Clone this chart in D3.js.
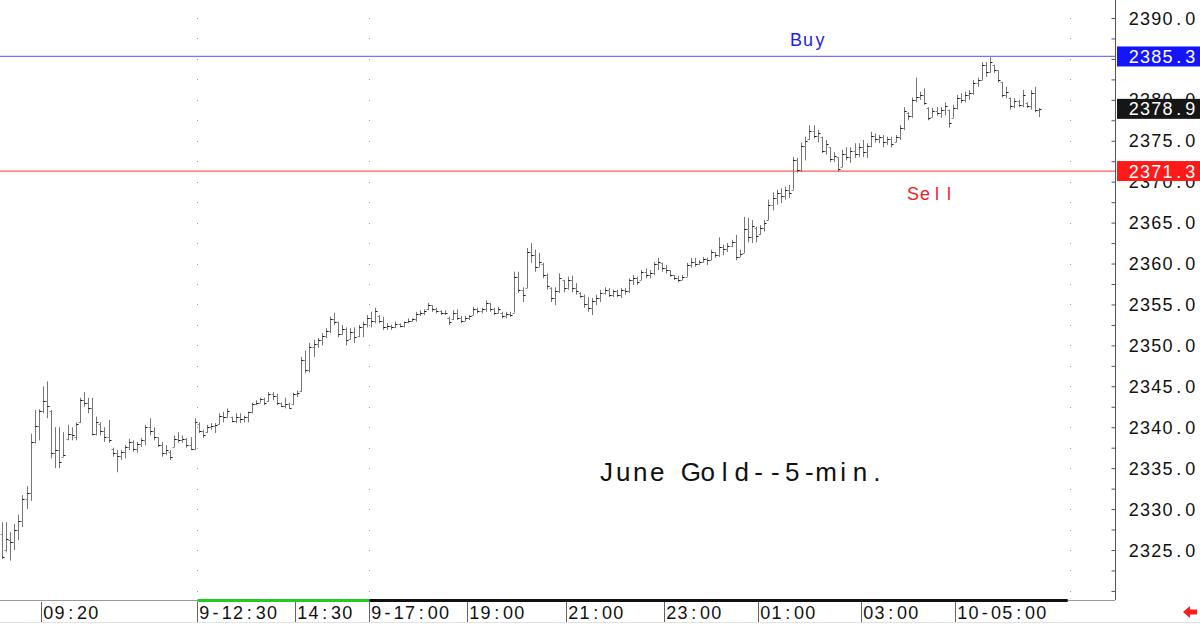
<!DOCTYPE html>
<html>
<head>
<meta charset="utf-8">
<script src="https://cdn.jsdelivr.net/npm/d3@7"></script>
<style>
  body { margin: 0; background: #fff; }
  svg { display: block; }
  text { font-family: "Liberation Sans", Arial, sans-serif; }
</style>
</head>
<body>
<div class="canvas"></div>
<script>
// ------------------------ data (5-min bars)
const highs = [
  2328.4, 2328.4, 2327.2, 2328.2, 2329.3, 2331.7, 2332.8, 2339.2, 2342.1, 2342.2,
  2345.0, 2345.6, 2342.1, 2340.0, 2340.0, 2339.4, 2340.3, 2340.0, 2340.6, 2343.6,
  2344.3, 2343.6, 2343.6, 2341.3, 2340.6, 2340.0, 2340.9, 2337.5, 2337.2, 2337.2,
  2337.8, 2338.6, 2338.4, 2338.2, 2338.7, 2340.3, 2341.1, 2340.0, 2338.8, 2338.2,
  2337.8, 2337.2, 2339.0, 2339.4, 2339.0, 2338.7, 2338.8, 2341.1, 2340.6, 2339.7,
  2340.3, 2340.5, 2340.5, 2341.7, 2341.9, 2342.3, 2341.3, 2341.7, 2341.7, 2341.4,
  2341.9, 2343.0, 2343.3, 2343.6, 2343.6, 2344.3, 2344.3, 2344.1, 2343.0, 2343.6,
  2343.0, 2344.2, 2344.5, 2348.6, 2349.4, 2350.3, 2350.7, 2350.9, 2351.5, 2352.1,
  2353.5, 2354.0, 2352.9, 2352.5, 2352.2, 2352.1, 2352.2, 2352.5, 2352.9, 2353.7,
  2354.1, 2354.6, 2353.7, 2353.5, 2352.7, 2352.5, 2352.9, 2352.7, 2352.9, 2353.3,
  2353.3, 2354.1, 2354.3, 2354.4, 2355.2, 2354.9, 2354.6, 2354.3, 2354.3, 2353.5,
  2354.3, 2354.4, 2353.6, 2353.6, 2353.7, 2354.7, 2354.6, 2354.6, 2355.5, 2355.2,
  2354.6, 2354.7, 2354.1, 2354.1, 2354.1, 2359.0, 2359.0, 2357.1, 2361.9, 2362.5,
  2361.7, 2361.3, 2360.1, 2358.8, 2357.1, 2357.1, 2358.8, 2358.0, 2358.4, 2358.5,
  2357.6, 2356.5, 2356.2, 2355.9, 2355.8, 2356.2, 2356.8, 2357.1, 2357.0, 2356.8,
  2356.8, 2357.0, 2357.0, 2358.2, 2358.6, 2358.4, 2359.2, 2359.4, 2359.2, 2360.2,
  2360.7, 2360.1, 2359.8, 2359.2, 2358.6, 2358.5, 2358.6, 2360.1, 2360.7, 2360.7,
  2360.4, 2360.8, 2360.7, 2361.7, 2361.4, 2363.2, 2362.3, 2362.5, 2362.9, 2363.5,
  2361.7, 2365.7, 2365.6, 2365.3, 2364.5, 2364.7, 2365.3, 2367.8, 2368.7, 2369.0,
  2369.2, 2369.4, 2369.6, 2373.0, 2372.9, 2374.8, 2375.5, 2376.9, 2376.9, 2376.3,
  2375.5, 2375.1, 2374.2, 2373.6, 2373.0, 2373.9, 2374.2, 2374.2, 2374.7, 2374.7,
  2375.1, 2374.7, 2376.1, 2375.9, 2375.7, 2375.7, 2375.5, 2375.5, 2375.7, 2376.9,
  2379.1, 2378.5, 2380.3, 2382.7, 2381.0, 2381.4, 2379.1, 2379.0, 2379.1, 2379.1,
  2379.7, 2378.8, 2379.4, 2380.6, 2380.8, 2381.0, 2381.2, 2382.4, 2382.7, 2384.6,
  2384.6, 2385.2, 2384.3, 2383.6, 2382.2, 2381.6, 2380.3, 2380.2, 2380.0, 2381.2,
  2379.7, 2381.2, 2381.6, 2379.0
];
const lows = [
  2323.9, 2324.8, 2323.7, 2325.0, 2326.2, 2327.8, 2330.0, 2331.0, 2338.0, 2338.4,
  2341.7, 2341.1, 2336.2, 2335.0, 2335.0, 2336.4, 2338.4, 2338.4, 2338.4, 2340.5,
  2342.5, 2341.7, 2339.0, 2339.0, 2339.0, 2338.2, 2338.1, 2336.4, 2334.5, 2336.0,
  2336.2, 2337.2, 2337.0, 2336.9, 2337.6, 2337.8, 2339.0, 2338.4, 2337.6, 2336.4,
  2336.6, 2336.0, 2337.6, 2338.1, 2338.1, 2337.5, 2337.2, 2337.2, 2339.3, 2338.7,
  2339.3, 2339.7, 2339.3, 2340.3, 2340.6, 2341.1, 2340.6, 2340.5, 2340.5, 2340.6,
  2340.6, 2341.7, 2342.7, 2343.0, 2342.7, 2343.1, 2343.3, 2342.7, 2342.5, 2342.3,
  2342.3, 2342.7, 2343.7, 2344.3, 2346.6, 2346.7, 2348.6, 2349.7, 2350.0, 2350.9,
  2351.5, 2352.5, 2351.0, 2351.3, 2350.0, 2350.7, 2350.3, 2351.0, 2351.0, 2352.2,
  2352.2, 2352.7, 2352.7, 2351.9, 2351.9, 2351.9, 2352.1, 2352.2, 2352.2, 2352.7,
  2352.9, 2352.9, 2353.6, 2353.7, 2354.3, 2354.1, 2353.9, 2353.7, 2353.7, 2352.5,
  2353.1, 2353.1, 2352.7, 2353.0, 2353.1, 2353.7, 2353.9, 2353.9, 2354.1, 2354.1,
  2353.7, 2353.9, 2353.3, 2353.3, 2353.5, 2354.0, 2356.4, 2355.3, 2357.0, 2360.1,
  2359.0, 2359.6, 2358.2, 2356.8, 2355.3, 2354.9, 2356.4, 2356.5, 2356.8, 2356.5,
  2356.2, 2355.8, 2354.6, 2354.1, 2353.7, 2354.9, 2355.3, 2356.2, 2355.9, 2355.9,
  2355.9, 2355.8, 2356.2, 2356.4, 2357.4, 2357.4, 2358.0, 2358.2, 2358.2, 2358.6,
  2359.2, 2359.0, 2358.8, 2358.4, 2358.0, 2357.7, 2358.0, 2358.4, 2359.5, 2359.6,
  2359.8, 2360.1, 2359.8, 2360.4, 2360.7, 2360.8, 2361.0, 2361.4, 2362.0, 2360.4,
  2360.8, 2361.3, 2362.6, 2362.5, 2362.6, 2363.5, 2363.9, 2365.3, 2366.5, 2367.2,
  2367.4, 2367.8, 2368.0, 2369.0, 2371.1, 2371.2, 2372.6, 2375.1, 2375.3, 2374.8,
  2373.5, 2373.3, 2372.4, 2372.4, 2371.2, 2371.8, 2372.6, 2372.3, 2372.9, 2373.0,
  2373.0, 2372.9, 2374.2, 2374.8, 2374.7, 2374.2, 2374.5, 2374.2, 2374.8, 2375.1,
  2376.3, 2377.5, 2377.8, 2379.7, 2380.0, 2379.4, 2377.5, 2377.9, 2378.1, 2377.8,
  2378.1, 2376.6, 2377.8, 2378.8, 2379.6, 2379.7, 2380.0, 2380.6, 2381.6, 2382.4,
  2382.8, 2383.3, 2383.3, 2382.1, 2380.3, 2380.2, 2378.8, 2379.0, 2379.1, 2379.1,
  2379.0, 2378.8, 2378.5, 2377.9
];
const opens = [
  2327.0, 2325.0, 2326.2, 2326.0, 2327.4, 2328.6, 2331.2, 2332.0, 2338.2, 2340.2,
  2342.0, 2343.2, 2342.0, 2336.8, 2337.2, 2336.4, 2338.6, 2339.2, 2338.8, 2340.6,
  2343.3, 2343.0, 2342.4, 2339.2, 2340.4, 2339.6, 2338.8, 2337.4, 2336.8, 2336.5,
  2337.0, 2337.6, 2338.2, 2337.4, 2338.0, 2338.4, 2340.0, 2339.6, 2338.8, 2337.8,
  2336.8, 2337.0, 2337.6, 2338.6, 2338.4, 2338.6, 2337.8, 2337.4, 2340.4, 2339.6,
  2339.4, 2340.0, 2340.2, 2340.4, 2341.4, 2341.2, 2341.3, 2340.8, 2341.2, 2341.0,
  2341.2, 2341.8, 2342.8, 2343.0, 2343.4, 2343.2, 2344.0, 2343.8, 2342.9, 2342.6,
  2342.8, 2342.8, 2344.0, 2344.4, 2348.2, 2347.0, 2349.8, 2350.2, 2350.6, 2351.2,
  2351.8, 2353.2, 2352.8, 2351.4, 2352.0, 2350.8, 2351.6, 2351.2, 2352.2, 2352.6,
  2353.4, 2353.0, 2353.6, 2353.0, 2352.2, 2352.4, 2352.2, 2352.6, 2352.4, 2352.8,
  2353.0, 2353.2, 2353.8, 2354.0, 2354.4, 2354.9, 2354.4, 2354.2, 2353.9, 2353.4,
  2353.2, 2354.0, 2353.4, 2353.0, 2353.4, 2353.7, 2354.5, 2354.2, 2354.4, 2355.2,
  2354.4, 2354.0, 2354.0, 2353.6, 2353.8, 2354.0, 2358.4, 2356.8, 2357.0, 2361.4,
  2361.0, 2359.6, 2360.0, 2358.6, 2357.0, 2355.8, 2356.6, 2358.0, 2357.0, 2358.0,
  2357.0, 2356.4, 2356.0, 2355.0, 2354.6, 2355.4, 2355.8, 2356.4, 2356.8, 2356.2,
  2356.6, 2356.2, 2356.8, 2356.6, 2358.0, 2358.2, 2358.0, 2359.0, 2358.6, 2358.8,
  2360.0, 2360.1, 2359.4, 2359.2, 2358.6, 2358.2, 2358.0, 2358.4, 2359.8, 2360.2,
  2360.0, 2360.2, 2360.6, 2360.4, 2361.4, 2361.0, 2362.0, 2361.8, 2362.2, 2362.6,
  2360.8, 2361.3, 2364.2, 2363.2, 2364.4, 2363.6, 2364.4, 2365.3, 2367.2, 2368.0,
  2368.6, 2368.2, 2369.0, 2369.0, 2372.6, 2371.4, 2374.4, 2375.2, 2376.2, 2375.6,
  2375.4, 2373.8, 2374.2, 2372.8, 2373.0, 2371.8, 2373.4, 2373.0, 2373.8, 2373.4,
  2374.2, 2373.6, 2374.4, 2375.6, 2375.2, 2375.4, 2374.8, 2375.2, 2374.8, 2375.4,
  2376.6, 2378.4, 2378.0, 2380.0, 2380.4, 2380.6, 2379.0, 2377.9, 2378.6, 2378.4,
  2378.8, 2378.8, 2377.8, 2379.0, 2380.2, 2380.0, 2380.6, 2380.8, 2382.0, 2382.4,
  2384.2, 2383.4, 2384.3, 2383.6, 2382.2, 2380.6, 2380.2, 2379.2, 2379.8, 2379.4,
  2379.6, 2379.2, 2380.8, 2378.8
];
const closes = [
  2324.2, 2326.3, 2326.0, 2327.4, 2328.6, 2331.2, 2332.0, 2338.2, 2340.2, 2342.0,
  2343.2, 2342.6, 2336.8, 2337.2, 2335.8, 2336.6, 2339.2, 2339.0, 2340.4, 2343.3,
  2343.0, 2342.4, 2339.2, 2340.6, 2339.6, 2338.8, 2338.4, 2336.8, 2336.5, 2337.0,
  2337.6, 2338.2, 2337.4, 2338.0, 2338.4, 2340.0, 2339.6, 2338.8, 2337.8, 2336.8,
  2337.2, 2336.4, 2338.6, 2338.4, 2338.6, 2337.8, 2337.4, 2340.6, 2339.6, 2339.0,
  2340.0, 2340.2, 2340.3, 2341.4, 2341.2, 2342.0, 2340.8, 2341.2, 2341.0, 2341.2,
  2341.8, 2342.8, 2343.0, 2343.4, 2343.0, 2344.0, 2343.8, 2342.9, 2342.6, 2342.8,
  2342.4, 2344.0, 2344.2, 2348.2, 2347.0, 2349.8, 2350.2, 2350.6, 2351.2, 2351.8,
  2353.2, 2352.8, 2351.4, 2352.0, 2350.6, 2351.6, 2351.0, 2352.2, 2352.6, 2353.4,
  2353.0, 2354.2, 2353.0, 2352.2, 2352.4, 2352.2, 2352.6, 2352.4, 2352.8, 2353.0,
  2353.2, 2353.8, 2354.0, 2354.2, 2354.9, 2354.4, 2354.2, 2353.9, 2354.0, 2352.8,
  2354.0, 2353.4, 2353.0, 2353.4, 2353.6, 2354.5, 2354.2, 2354.4, 2355.2, 2354.4,
  2354.0, 2354.4, 2353.6, 2353.8, 2353.7, 2358.4, 2356.8, 2356.2, 2361.4, 2361.0,
  2359.6, 2360.2, 2358.6, 2357.2, 2355.8, 2356.6, 2358.2, 2357.0, 2358.0, 2357.0,
  2356.6, 2356.0, 2355.0, 2354.6, 2355.4, 2355.8, 2356.4, 2356.8, 2356.2, 2356.6,
  2356.2, 2356.8, 2356.6, 2358.0, 2358.2, 2357.8, 2359.0, 2358.6, 2358.8, 2360.0,
  2360.2, 2359.4, 2359.2, 2358.6, 2358.2, 2358.0, 2358.4, 2359.8, 2360.2, 2360.0,
  2360.2, 2360.6, 2360.4, 2361.4, 2361.0, 2362.0, 2361.8, 2362.2, 2362.6, 2360.8,
  2361.2, 2364.2, 2363.2, 2364.6, 2363.4, 2364.4, 2365.0, 2367.2, 2368.0, 2368.6,
  2368.2, 2369.0, 2368.6, 2372.6, 2371.4, 2374.4, 2375.0, 2376.2, 2375.6, 2376.0,
  2373.8, 2374.6, 2372.8, 2373.2, 2371.6, 2373.4, 2373.0, 2373.8, 2373.4, 2374.2,
  2373.6, 2374.4, 2375.6, 2375.2, 2375.4, 2374.8, 2375.2, 2374.6, 2375.4, 2376.6,
  2378.6, 2378.0, 2380.0, 2380.4, 2380.6, 2379.6, 2377.8, 2378.6, 2378.4, 2378.8,
  2379.2, 2377.2, 2379.0, 2380.2, 2380.0, 2380.6, 2380.8, 2382.0, 2382.4, 2384.2,
  2383.4, 2384.6, 2383.6, 2382.4, 2380.6, 2381.0, 2379.2, 2379.8, 2379.4, 2380.6,
  2379.2, 2380.8, 2378.8, 2378.9
];

// time labels on the bottom strip (bar index where each one starts)
const timeIdx    = [10, 48, 72, 90, 114, 138, 162, 185, 210, 233];
const timeLabels = ['09:20', '9-12:30', '14:30', '9-17:00', '19:00', '21:00', '23:00', '01:00', '03:00', '10-05:00'];

// price axis labels (2385.0 sits fully under the buy box) + the marked levels
const priceTicks = [2325, 2330, 2335, 2340, 2345, 2350, 2355, 2360, 2365, 2370, 2375, 2380, 2390];
const buyLevel  = 2385.3;
const sellLevel = 2371.3;
const lastPrice = 2378.9;

// dotted vertical grid columns (bar index)
const gridIdx = [48, 90, 261];

//------------------------ dimensions
const dims = { width: 1200, height: 624, plotRight: 1115, plotBottom: 600 };

const svg = d3.select('.canvas')
  .append('svg')
  .attr('width', dims.width)
  .attr('height', dims.height);

svg.append('rect').attr('width', dims.width).attr('height', dims.height).attr('fill', '#fff');

const x = d3.scaleLinear().domain([0, highs.length - 1]).range([2, 1039]);
const step = x(1) - x(0);
const y = d3.scaleLinear().domain([2325, 2390]).range([550, 18]);

// draws a string in fixed-width cells (the platform spaces every glyph evenly)
const pitchText = (g, str, x0, baseY, pitch, size, fill) => {
  const t = g.append('text')
    .attr('y', baseY)
    .attr('font-size', size)
    .attr('fill', fill)
    .attr('text-anchor', 'middle');
  str.split('').forEach((ch, k) => {
    t.append('tspan').attr('x', x0 + k * pitch + pitch / 2).attr('y', baseY).text(ch);
  });
  return t;
};

//------------------------ dotted grid columns
const gridG = svg.append('g');
gridIdx.forEach(i => {
  const gx = Math.round(x(i) - step / 2);
  gridG.selectAll(null)
    .data(d3.range(2320, 2392.6, 2.5))
    .enter().append('rect')
    .attr('x', gx).attr('y', d => Math.round(y(d)))
    .attr('width', 1).attr('height', 1)
    .attr('fill', '#999');
});

//------------------------ buy / sell lines
svg.append('line')
  .attr('x1', 0).attr('x2', dims.plotRight)
  .attr('y1', y(buyLevel)).attr('y2', y(buyLevel))
  .attr('stroke', '#7373ff').attr('stroke-width', 1.3);

svg.append('line')
  .attr('x1', 0).attr('x2', dims.plotRight)
  .attr('y1', y(sellLevel)).attr('y2', y(sellLevel))
  .attr('stroke', '#ff5a5a').attr('stroke-width', 1.3);

pitchText(svg, 'Buy', 790, 46, 12, 18, '#1f1fe6');
pitchText(svg, 'Sell', 907, 200, 12, 18, '#f01e1e');

//------------------------ OHLC bars
const bars = svg.append('g').attr('class', 'bars');
const barData = highs.map((h, i) => ({ i, h, l: lows[i], o: opens[i], c: closes[i] }));

const bx = d => Math.round(x(d.i)) + 0.5;

bars.selectAll('line.hl')
  .data(barData)
  .enter().append('line')
  .attr('class', 'hl')
  .attr('x1', bx).attr('x2', bx)
  .attr('y1', d => y(d.h)).attr('y2', d => y(d.l))
  .attr('stroke', '#767676').attr('stroke-width', 1);

bars.selectAll('line.op')
  .data(barData)
  .enter().append('line')
  .attr('class', 'op')
  .attr('x1', d => bx(d) - 2).attr('x2', d => bx(d))
  .attr('y1', d => Math.round(y(d.o)) + 0.5).attr('y2', d => Math.round(y(d.o)) + 0.5)
  .attr('stroke', '#888').attr('stroke-width', 1);

bars.selectAll('line.cl')
  .data(barData)
  .enter().append('line')
  .attr('class', 'cl')
  .attr('x1', d => bx(d)).attr('x2', d => bx(d) + 2)
  .attr('y1', d => Math.round(y(d.c)) + 0.5).attr('y2', d => Math.round(y(d.c)) + 0.5)
  .attr('stroke', '#111').attr('stroke-width', 1);

//------------------------ title
pitchText(svg, 'June Gold--5-min.', 598, 481, 16.9, 26, '#111');

//------------------------ right price axis
const axisG = svg.append('g').attr('transform', `translate(${dims.plotRight + 0.5},0)`);

axisG.append('line').attr('x1', 0).attr('x2', 0).attr('y1', 0).attr('y2', dims.plotBottom)
  .attr('stroke', '#555');

// minor / medium ticks pointing into the plot
axisG.call(d3.axisLeft(y).tickValues(d3.range(2319, 2392.5, 0.5)).tickSize(2).tickFormat(''));
axisG.call(d3.axisLeft(y).tickValues(d3.range(2320, 2392.5, 2.5)).tickSize(4).tickFormat(''));
axisG.selectAll('.domain').remove();
axisG.selectAll('.tick line').attr('stroke', '#555');

const labelG = svg.append('g');
priceTicks.forEach(v => {
  pitchText(labelG, v.toFixed(1), 1128, y(v) + 6.5, 11.3, 18, '#111');
});

// highlighted level boxes
const levelBoxes = [
  { v: buyLevel, fill: '#1414ff' },
  { v: lastPrice, fill: '#161616' },
  { v: sellLevel, fill: '#ff1a1a' }
];
levelBoxes.forEach(b => {
  const cy = y(b.v);
  svg.append('rect')
    .attr('x', dims.plotRight + 2).attr('y', cy - 10)
    .attr('width', dims.width - dims.plotRight - 2).attr('height', 20)
    .attr('fill', b.fill);
  pitchText(svg, b.v.toFixed(1), 1128, cy + 6.5, 11.3, 18, '#fff');
});

//------------------------ bottom time strip
const stripG = svg.append('g');
stripG.append('line')
  .attr('x1', 0).attr('x2', dims.plotRight).attr('y1', dims.plotBottom + 0.5).attr('y2', dims.plotBottom + 0.5)
  .attr('stroke', '#999');

const sepX = i => Math.round(x(i) - step / 2) + 0.5;

stripG.append('rect')
  .attr('x', sepX(48)).attr('y', dims.plotBottom - 1)
  .attr('width', sepX(90) - sepX(48)).attr('height', 3)
  .attr('fill', '#1fcc1f');
stripG.append('rect')
  .attr('x', sepX(90)).attr('y', dims.plotBottom - 1)
  .attr('width', x(260) - sepX(90)).attr('height', 3)
  .attr('fill', '#111');

stripG.append('line')
  .attr('x1', 0).attr('x2', dims.width).attr('y1', 622.5).attr('y2', 622.5)
  .attr('stroke', '#e2e2e2');

timeIdx.forEach((i, k) => {
  const sx = sepX(i);
  stripG.append('line')
    .attr('x1', sx).attr('x2', sx).attr('y1', 602).attr('y2', 622)
    .attr('stroke', '#666');
  pitchText(stripG, timeLabels[k], sx + 1, 619, 11.3, 18, '#111');
});

// small red arrow bottom right
svg.append('path')
  .attr('d', 'M1183,612 L1190,606 L1190,609.5 L1197,609.5 L1197,614.5 L1190,614.5 L1190,618 Z')
  .attr('fill', '#ff1a1a');
</script>
</body>
</html>
